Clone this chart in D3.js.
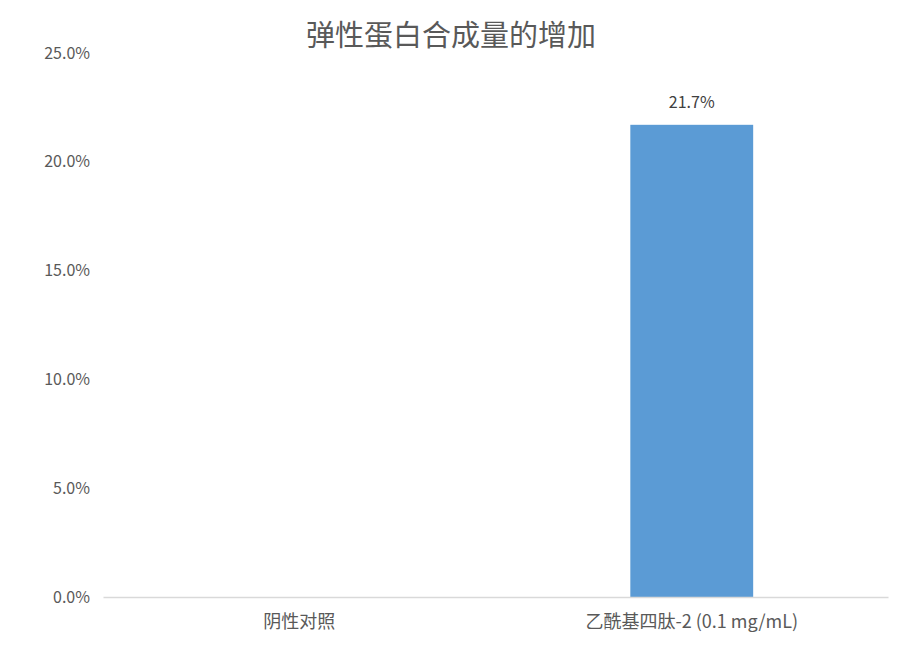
<!DOCTYPE html>
<html><head><meta charset="utf-8">
<script src="https://cdn.jsdelivr.net/npm/d3@7"></script>
<style>body{margin:0;background:#fff;} text{font-family:"Noto Sans CJK SC","Noto Sans",sans-serif;}</style>
</head><body><svg id="c" width="902" height="647"></svg>
<script>
const categories = ["阴性对照", "乙酰基四肽-2 (0.1 mg/mL)"];
const values = [0, 0.217];
const yTicks = [0, 0.05, 0.10, 0.15, 0.20, 0.25];
const title = "弹性蛋白合成量的增加";

(function () {
const svg = d3.select("#c");
const mL = 103, mR = 888, mT = 53, mB = 597;
const x = d3.scaleBand().domain(categories).range([mL, mR]).paddingInner(0.687).paddingOuter(0.3435);
const y = d3.scaleLinear().domain([0, 0.25]).range([mB, mT]);

svg.append("text").attr("x", 451).attr("y", 46).attr("text-anchor", "middle")
  .attr("font-size", 29).attr("fill", "#595959").text(title);

const yAxis = d3.axisLeft(y).tickValues(yTicks).tickFormat(d3.format(".1%")).tickSize(0).tickPadding(13);
const gy = svg.append("g").attr("transform", `translate(${mL},0)`).call(yAxis);
gy.select(".domain").remove();
gy.selectAll("text").attr("font-size", 16).attr("fill", "#595959").attr("font-family", '"Noto Sans","Noto Sans CJK SC",sans-serif');

svg.selectAll("rect.bar").data(values).join("rect").attr("class", "bar")
  .attr("x", (d, i) => x(categories[i])).attr("width", x.bandwidth())
  .attr("y", d => y(d)).attr("height", d => mB - y(d)).attr("fill", "#5B9BD5");

const xAxis = d3.axisBottom(x).tickSize(0).tickPadding(18);
const gx = svg.append("g").attr("transform", `translate(0,${mB})`).call(xAxis);
gx.select(".domain").attr("stroke", "#d9d9d9").attr("stroke-width", 1.5);
gx.selectAll("text").attr("font-size", 18).attr("fill", "#595959");

svg.selectAll("text.lbl").data(values.map((v, i) => ({v, i})).filter(d => d.v > 0)).join("text").attr("class", "lbl")
  .attr("x", d => x(categories[d.i]) + x.bandwidth() / 2)
  .attr("y", d => y(d.v) - 17).attr("text-anchor", "middle")
  .attr("font-size", 16).attr("fill", "#404040").attr("font-family", '"Noto Sans","Noto Sans CJK SC",sans-serif')
  .text(d => d3.format(".1%")(d.v));
})();
</script></body></html>
